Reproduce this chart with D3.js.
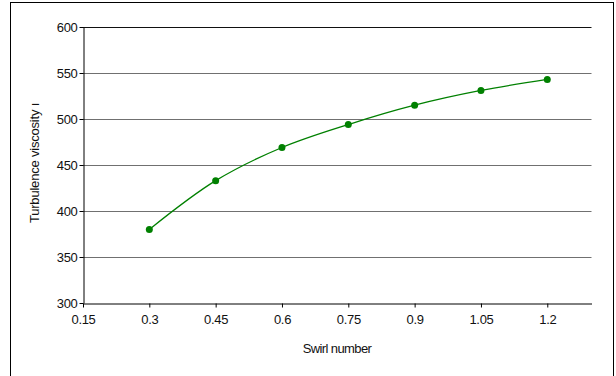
<!DOCTYPE html>
<html><head><meta charset="utf-8">
<script src="https://cdn.jsdelivr.net/npm/d3@7"></script>
<style>body{margin:0;background:#fff}svg{display:block}text{font-family:"Liberation Sans",Arial,sans-serif}</style>
</head><body>
<svg id="c" width="616" height="376"></svg>
<script>
const swirl = [0.3, 0.45, 0.6, 0.75, 0.9, 1.05, 1.2];
const viscosity = [380, 433, 469, 494, 515, 531, 543];
const xTicks = [0.15, 0.3, 0.45, 0.6, 0.75, 0.9, 1.05, 1.2];
const yTicks = [300, 350, 400, 450, 500, 550, 600];

const svg = d3.select("#c");
svg.append("rect").attr("x",10.5).attr("y",2.5).attr("width",603).attr("height",380)
  .attr("fill","#fff").attr("stroke","#000").attr("stroke-width",1);

const L=83, R=591.5, T=27, B=303;
const x = d3.scaleLinear().domain([0.15,1.3]).range([L,R]);
const y = d3.scaleLinear().domain([300,600]).range([B,T]);

// gridlines
svg.append("g").selectAll("line").data(yTicks.filter(d=>d>300)).join("line")
  .attr("x1",L).attr("x2",R).attr("y1",d=>Math.round(y(d))+0.5).attr("y2",d=>Math.round(y(d))+0.5)
  .attr("stroke",d=>d===600?"#111":"#707070").attr("stroke-width",1);

const ya = svg.append("g").attr("transform",`translate(${L+0.5},0)`)
  .call(d3.axisLeft(y).tickValues(yTicks).tickSize(4).tickSizeOuter(0).tickFormat(d3.format("d")));
const xa = svg.append("g").attr("transform",`translate(0,${Math.round(B)+0.5})`)
  .call(d3.axisBottom(x).tickValues(xTicks).tickSize(4).tickSizeOuter(0).tickFormat(d=>String(d)));
[ya,xa].forEach(a=>{
  a.select(".domain").attr("stroke","#000");
  a.selectAll(".tick line").attr("stroke","#000");
  a.selectAll("text").attr("fill","#111").style("font-size","13px").style("letter-spacing","-0.3px");
});
ya.selectAll("text").attr("x",-6);
xa.selectAll("text").attr("y",11);

const pts = swirl.map((s,i)=>[x(s),y(viscosity[i])]);
svg.append("path").attr("d",d3.line().curve(d3.curveCatmullRom.alpha(0.5))(pts))
  .attr("fill","none").attr("stroke","#008000").attr("stroke-width",1.3);
svg.append("g").selectAll("circle").data(pts).join("circle")
  .attr("cx",d=>d[0]).attr("cy",d=>d[1]).attr("r",3.5).attr("fill","#008000");

svg.append("text").attr("x",337).attr("y",353).attr("text-anchor","middle")
  .style("font-size","13px").style("letter-spacing","-0.6px").attr("fill","#111").text("Swirl number");
svg.append("text").attr("transform","translate(39,163) rotate(-90)").attr("text-anchor","middle")
  .style("font-size","13px").style("letter-spacing","-0.2px").attr("fill","#111").text("Turbulence viscosity ı");
</script>
</body></html>
